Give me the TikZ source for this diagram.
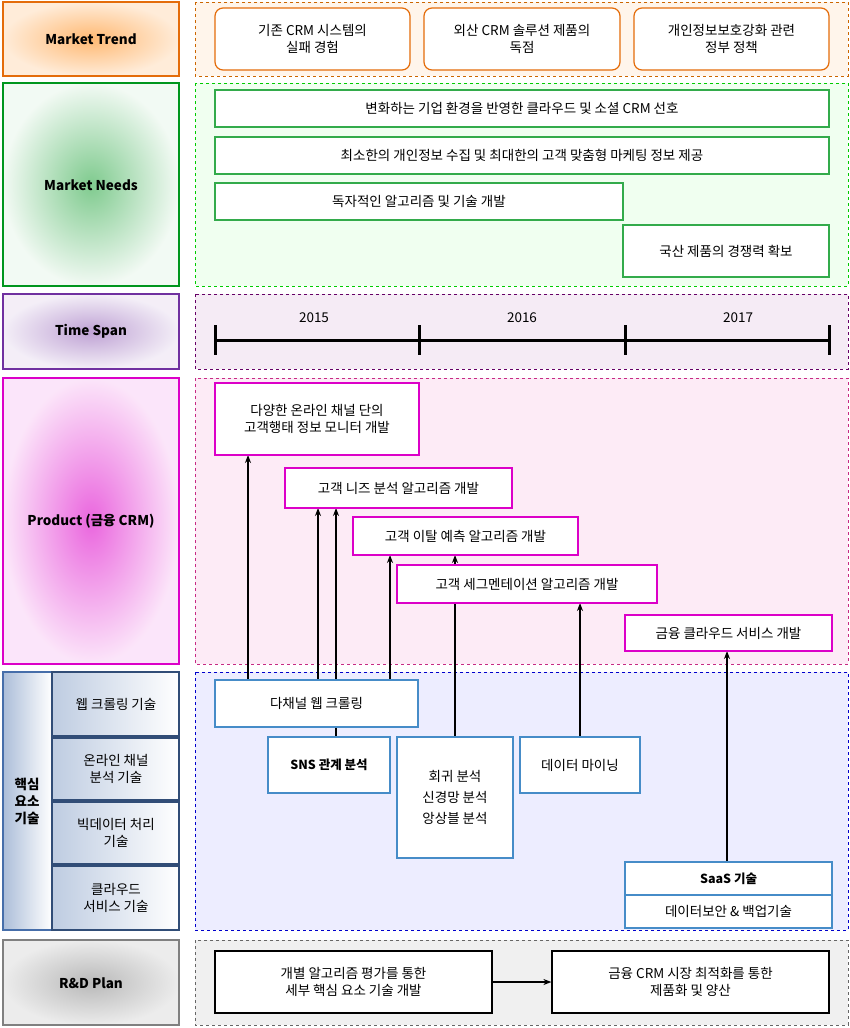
\documentclass[tikz,border=0pt]{standalone}
\usepackage{fontspec}
\setmainfont{Noto Sans CJK KR}
\usetikzlibrary{arrows.meta}
\definecolor{trendc}{RGB}{228,108,10}
\definecolor{needc}{RGB}{0,150,30}
\definecolor{timec}{RGB}{112,48,160}
\definecolor{prodc}{RGB}{220,0,200}
\definecolor{corec}{RGB}{70,110,170}
\definecolor{boxblue}{RGB}{70,140,200}
\begin{document}
\begin{tikzpicture}[
    x=1pt, y=-1pt,
    > = {Stealth[length=8pt,width=6pt]},
    font=\fontsize{13.5}{17}\selectfont,
    lab/.style={draw=#1, line width=2pt},
    labtxt/.style={font=\fontsize{13.5}{17}\selectfont\bfseries},
    panel/.style={draw=#1!80!black, dashed, line width=1pt},
    item/.style={draw=#1, line width=1.2pt, fill=white, align=center},
]
\useasboundingbox (0,0) rectangle (849,1028);
% left labels
\draw[lab=trendc, inner color=orange!55, outer color=orange!15] (3,2) rectangle (179,76);
\node[labtxt] (lt) at (91,39) {Market Trend};
\draw[lab=needc, inner color=needc!50, outer color=needc!5] (3,83) rectangle (179,286);
\node[labtxt] (ln) at (91,185) {Market Needs};
\draw[lab=timec, inner color=timec!45, outer color=timec!8] (3,294) rectangle (179,369);
\node[labtxt] (ls) at (91,331) {Time Span};
\draw[lab=prodc, inner color=prodc!60, outer color=prodc!10] (3,378) rectangle (179,664);
\node[labtxt] (lp) at (91,521) {Product (금융 CRM)};
\draw[lab=corec, left color=corec!45, right color=white] (3,672) rectangle (52,930);
\node[labtxt, align=center] (lc) at (27,801) {핵심\\요소\\기술};
\foreach \ya/\yb/\txt in {672/736/{웹 크롤링 기술}, 738/800/{온라인 채널\\분석 기술}, 802/864/{빅데이터 처리\\기술}, 866/930/{클라우드\\서비스 기술}}{
  \draw[draw=corec!70!black, line width=1.5pt, left color=corec!35, right color=white] (52,\ya) rectangle (179,\yb);
  \node[align=center] at (116,{(\ya+\yb)/2}) {\txt};
}
\draw[lab=gray, inner color=gray!55, outer color=gray!15] (3,940) rectangle (179,1025);
\node[labtxt] (lr) at (91,983) {R\&D Plan};
% right panels
\draw[panel=orange, fill=orange!8] (195,2) rectangle (848,76);
\draw[panel=green, fill=green!6] (195,83) rectangle (848,286);
\draw[panel=violet, fill=violet!8] (195,294) rectangle (848,369);
\draw[panel=magenta, fill=magenta!8] (195,378) rectangle (848,664);
\draw[panel=blue, fill=blue!7] (195,672) rectangle (848,930);
\draw[panel=gray, fill=gray!12] (195,940) rectangle (848,1025);
% market trend
\foreach \xa/\xb/\txt in {215/410/{기존 CRM 시스템의\\실패 경험}, 424/620/{외산 CRM 솔루션 제품의\\독점}, 634/829/{개인정보보호강화 관련\\정부 정책}}{
  \draw[draw=trendc, line width=1.2pt, rounded corners=8pt, fill=white] (\xa,8) rectangle (\xb,70);
  \node[align=center] at ({(\xa+\xb)/2},39) {\txt};
}
% market needs
\foreach \xa/\ya/\xb/\yb/\txt in {215/90/829/127/{변화하는 기업 환경을 반영한 클라우드 및 소셜 CRM 선호}, 215/137/829/174/{최소한의 개인정보 수집 및 최대한의 고객 맞춤형 마케팅 정보 제공}, 215/183/623/220/{독자적인 알고리즘 및 기술 개발}, 623/225/829/277/{국산 제품의 경쟁력 확보}}{
  \draw[draw=needc!80, line width=1.2pt, fill=white] (\xa,\ya) rectangle (\xb,\yb);
  \node at ({(\xa+\xb)/2},{(\ya+\yb)/2}) {\txt};
}
% time span
\coordinate (t0) at (215,340);
\coordinate (t3) at (829,340);
\draw[line width=3pt] (t0) -- (t3);
\foreach \x in {215,419,625,829} \draw[line width=3pt] (\x,325) -- (\x,355);
\node at (314,318) {2015};
\node at (522,318) {2016};
\node at (738,318) {2017};
% arrows (drawn under boxes)
\draw[->, line width=1.5pt] (248,680) -- (248,455);
\draw[->, line width=1.5pt] (318,680) -- (318,508);
\draw[->, line width=1.5pt] (336,737) -- (336,508);
\draw[->, line width=1.5pt] (390,680) -- (390,555);
\draw[->, line width=1.5pt] (455,737) -- (455,555);
\draw[->, line width=1.5pt] (580,737) -- (580,603);
\draw[->, line width=1.5pt] (727,862) -- (727,651);
% product
\node[item=prodc, minimum width=204pt, minimum height=72pt] (p1) at (317,419) {다양한 온라인 채널 단의\\고객행태 정보 모니터 개발};
\node[item=prodc, minimum width=227pt, minimum height=40pt] (p2) at (398.5,488) {고객 니즈 분석 알고리즘 개발};
\node[item=prodc, minimum width=225pt, minimum height=38pt] (p3) at (465.5,536) {고객 이탈 예측 알고리즘 개발};
\node[item=prodc, minimum width=260pt, minimum height=38pt] (p4) at (527,584) {고객 세그멘테이션 알고리즘 개발};
\node[item=prodc, minimum width=207pt, minimum height=36pt] (p5) at (728.5,633) {금융 클라우드 서비스 개발};
% core tech
\node[item=boxblue, minimum width=203pt, minimum height=47pt] (c1) at (316.5,703.5) {다채널 웹 크롤링};
\node[item=boxblue, minimum width=122pt, minimum height=56pt, font=\fontsize{12.5}{16}\selectfont\bfseries] (c2) at (329,765) {SNS 관계 분석};
\node[item=boxblue, minimum width=116pt, minimum height=121pt] (c3) at (455,797.5) {회귀 분석\\[4pt]신경망 분석\\[4pt]앙상블 분석};
\node[item=boxblue, minimum width=120pt, minimum height=56pt] (c4) at (580,765) {데이터 마이닝};
\node[item=boxblue, minimum width=207pt, minimum height=33pt, font=\fontsize{12.5}{16}\selectfont\bfseries] (c5) at (728.5,878.5) {SaaS 기술};
\node[item=boxblue, minimum width=207pt, minimum height=33pt] (c6) at (728.5,911.5) {데이터보안 \& 백업기술};
% R&D plan
\node[item=black, minimum width=277pt, minimum height=62pt] (r1) at (353.5,982) {개별 알고리즘 평가를 통한\\세부 핵심 요소 기술 개발};
\node[item=black, minimum width=277pt, minimum height=62pt] (r2) at (690.5,982) {금융 CRM 시장 최적화를 통한\\제품화 및 양산};
\draw[->, line width=1.5pt] (r1) -- (r2);
\end{tikzpicture}
\end{document}
